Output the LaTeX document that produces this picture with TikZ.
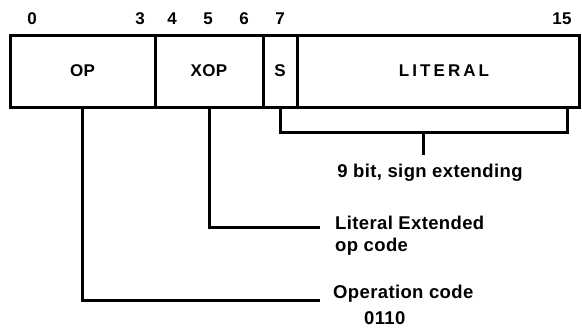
\documentclass[tikz,border=0pt]{standalone}
\usepackage{fontspec}
\setmainfont{Liberation Sans}[LetterSpace=2]
\newfontfamily\spacedfont{Liberation Sans}[LetterSpace=18]
\usetikzlibrary{positioning}
\begin{document}
\begin{tikzpicture}[x=1pt, y=-1pt,
        fieldnode/.style={rectangle, draw=black, line width=3pt, outer sep=0pt, minimum height=72pt, font=\fontsize{17}{21}\selectfont\bfseries},
        conn/.style={line width=3pt},
        lbl/.style={font=\fontsize{18.5}{22}\selectfont\bfseries, align=left, inner sep=0pt},
        bitnode/.style={font=\fontsize{17}{20}\selectfont\bfseries, inner sep=0pt},
    ]
        \useasboundingbox (0,0) rectangle (582,330);

        %Nodes
        \node[fieldnode, minimum width=145pt] (op) at (82.5,71) {OP};
        \node[fieldnode, minimum width=108pt, right=0pt of op] (xop) {XOP};
        \node[fieldnode, minimum width=34pt, right=0pt of xop] (s) {S};
        \node[fieldnode, minimum width=282pt, right=0pt of s] (literal) {\spacedfont\bfseries\hspace*{12pt}LITERAL};

        % bit numbers
        \foreach \b/\x in {0/32, 3/140, 4/172, 5/208, 6/244, 7/280, 15/562}{
            \node[bitnode] (bit\b) at (\x,19) {\b};
        }

        \node[lbl] (sgn) at (430,173) {9 bit, sign extending};
        \node[lbl, anchor=north west] (litx) at (335,216) {Literal Extended\\op code};
        \node[lbl, anchor=north west] (opc) at (333,285) {Operation code\\[4pt]\hspace*{31pt}0110};

        %Lines
        \coordinate (brmid) at (423,132);
        \coordinate (brr) at (567,107);
        \coordinate (xopend) at (320,227);
        \coordinate (opend) at (320,300);

        \draw[conn] (s.south) |- (brmid) -| (brr);
        \draw[conn] (brmid) -- ++(0,23);
        \draw[conn] (xop.south) |- (xopend);
        \draw[conn] (op.south) |- (opend);
    \end{tikzpicture}
\end{document}
